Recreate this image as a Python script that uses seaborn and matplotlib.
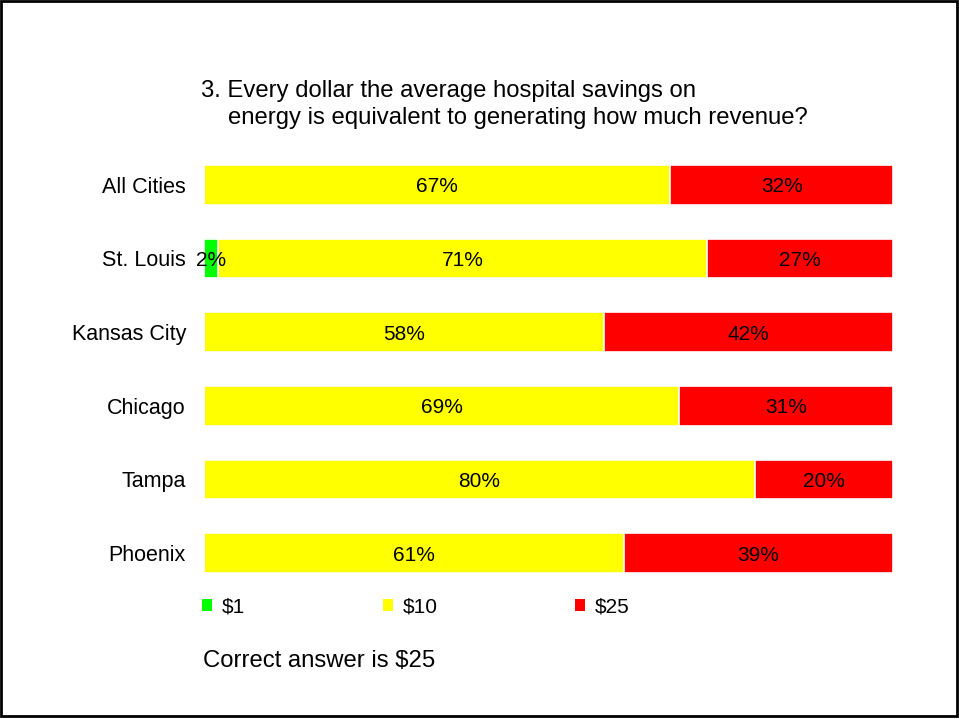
import numpy as np
import pandas as pd
import seaborn as sns
import matplotlib.pyplot as plt
from matplotlib.patches import Patch, Rectangle

# Survey answers (percent of respondents)
cities = ['All Cities', 'St. Louis', 'Kansas City', 'Chicago', 'Tampa', 'Phoenix']
pct_1 = [0, 2, 0, 0, 0, 0]
pct_10 = [67, 71, 58, 69, 80, 61]
pct_25 = [32, 27, 42, 31, 20, 39]
answers = ['$1', '$10', '$25']
colors = ['#00FF00', '#FFFF00', '#FF0000']

df = pd.DataFrame({'city': cities, '$1': pct_1, '$10': pct_10, '$25': pct_25})
total = df[answers].sum(axis=1)
shares = df[answers].div(total, axis=0)
cum = shares.cumsum(axis=1)

sns.set_style('white')
plt.rcParams['font.family'] = ['Liberation Sans', 'DejaVu Sans']
plt.rcParams['text.color'] = 'black'

fig = plt.figure(figsize=(9.59, 7.19), dpi=100)
ax = fig.add_axes([0.2127, 0.1795, 0.7185, 0.6147])

# stacked bars: draw the cumulative totals from the widest down
for ans, col in reversed(list(zip(answers, colors))):
    sns.barplot(x=cum[ans], y=df['city'], order=cities, orient='h', color=col,
                saturation=1, width=0.54, edgecolor='white', linewidth=1.2,
                errorbar=None, ax=ax)

# percent labels in the middle of each segment
for i, city in enumerate(cities):
    for ans in answers:
        v = df.loc[i, ans]
        if v <= 0:
            continue
        mid = cum.loc[i, ans] - shares.loc[i, ans] / 2
        ax.text(mid, i, f'{v}%', ha='center', va='center_baseline', fontsize=15, color='black')

ax.set_xlim(0, 1)
ax.set_ylim(len(cities) - 0.5, -0.5)
ax.set_xlabel('')
ax.set_ylabel('')
ax.set_xticks([])
ax.tick_params(axis='y', length=0, pad=13, labelsize=15.5, labelcolor='black')
sns.despine(ax=ax, left=True, bottom=True)

handles = [Patch(facecolor=c, edgecolor='none') for c in colors]
leg = ax.legend(handles, answers, ncol=3, loc='center left', frameon=False,
                bbox_to_anchor=(202 / 959, 1 - 607 / 719), bbox_transform=fig.transFigure,
                fontsize=15, handlelength=0.5, handleheight=0.5, handletextpad=0.45,
                columnspacing=6.6, borderpad=0, borderaxespad=0)
for t in leg.get_texts():
    t.set_color('black')

fig.text(201 / 959, 1 - 96.7 / 719, '3. Every dollar the average hospital savings on',
         fontsize=17.2, va='baseline', ha='left', color='black')
fig.text(228 / 959, 1 - 124.3 / 719, 'energy is equivalent to generating how much revenue?',
         fontsize=17.2, va='baseline', ha='left', color='black')
fig.text(203 / 959, 1 - 667.3 / 719, 'Correct answer is $25',
         fontsize=17.2, va='baseline', ha='left', color='black')

# slide border
fig.patches.append(Rectangle((0.001, 0.0035), 0.9974, 0.995, transform=fig.transFigure,
                             fill=False, edgecolor='black', linewidth=2))

fig.savefig('out.png', dpi=100)
